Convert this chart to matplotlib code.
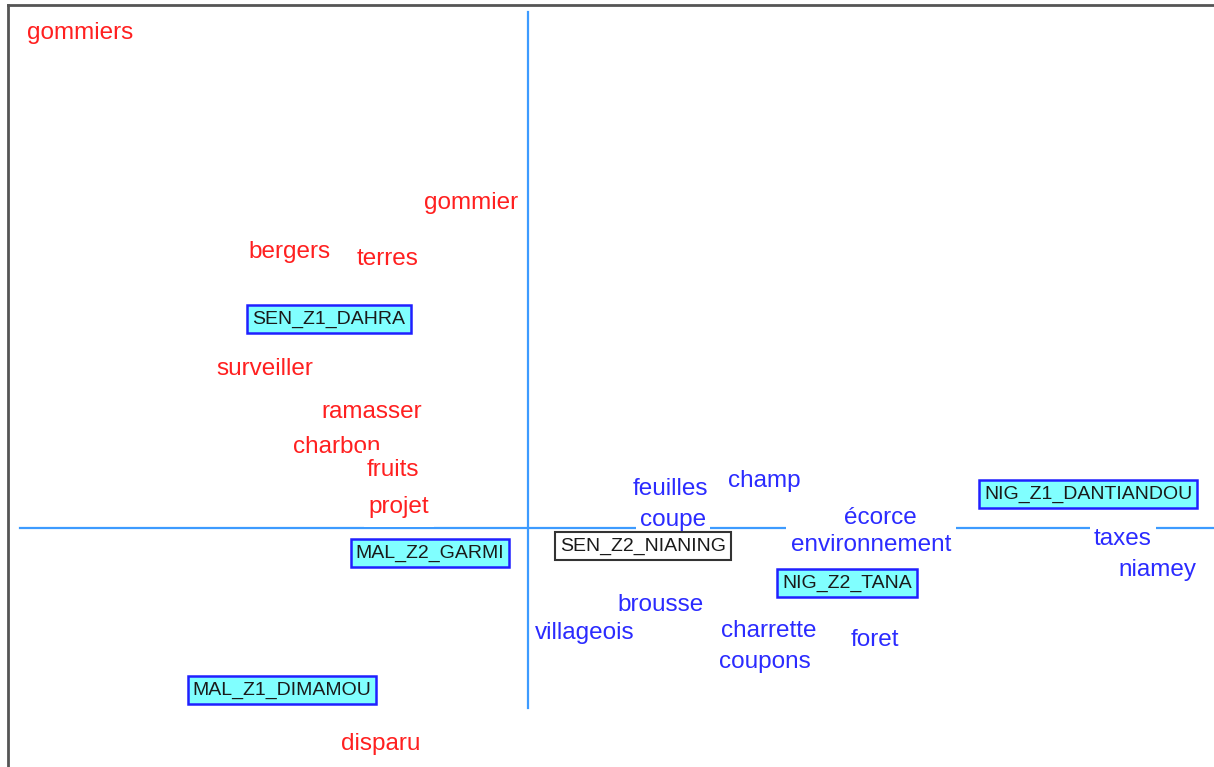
import matplotlib
matplotlib.use("Agg")
import matplotlib.pyplot as plt

plt.rcParams["font.family"] = ["Liberation Sans", "DejaVu Sans"]

# column words (red) - factor 1 / factor 2 coordinates
red_words = ["gommiers", "gommier", "bergers", "terres", "surveiller",
             "ramasser", "charbon", "fruits", "projet", "disparu"]
red_x = [-0.896, -0.114, -0.476, -0.280, -0.526, -0.312, -0.382, -0.270, -0.258, -0.294]
red_y = [0.990, 0.650, 0.552, 0.538, 0.318, 0.232, 0.162, 0.116, 0.042, -0.432]

# column words (blue)
blue_words = ["feuilles", "champ", "coupe", "écorce", "environnement", "taxes",
              "niamey", "brousse", "villageois", "charrette", "coupons", "foret"]
blue_x = [0.284, 0.472, 0.290, 0.704, 0.686, 1.190, 1.258, 0.266, 0.114, 0.482, 0.474, 0.694]
blue_y = [0.078, 0.094, 0.016, 0.020, -0.034, -0.022, -0.084, -0.154, -0.210, -0.206, -0.268, -0.224]

# sites (boxed)
sites = ["SEN_Z1_DAHRA", "MAL_Z2_GARMI", "MAL_Z1_DIMAMOU", "SEN_Z2_NIANING",
         "NIG_Z2_TANA", "NIG_Z1_DANTIANDOU"]
site_x = [-0.398, -0.196, -0.492, 0.230, 0.638, 1.120]
site_y = [0.418, -0.050, -0.324, -0.036, -0.110, 0.068]
site_active = [True, True, True, False, True, True]

fig = plt.figure(figsize=(12.14, 7.67), dpi=100)
ax = fig.add_axes([8 / 1214, 0, 1 - 8 / 1214, 1 - 5 / 767])
ax.set_xlim(-1.04, 1.372)
ax.set_ylim(-0.478, 1.046)
ax.set_xticks([])
ax.set_yticks([])
for side in ["right", "bottom"]:
    ax.spines[side].set_visible(False)
for side in ["left", "top"]:
    ax.spines[side].set_color("#555555")
    ax.spines[side].set_linewidth(2)

# factor axes
ax.plot([-1.016, 1.37], [0, 0], color="#3d9bff", lw=1.6, zorder=1)
ax.plot([0, 0], [-0.36, 1.032], color="#3d9bff", lw=1.6, zorder=1)

# white label background, taller than wide
word_box = dict(boxstyle="square,pad=0.18", fc="white", ec="none", mutation_aspect=2.0)
for w, x, y in zip(red_words, red_x, red_y):
    ax.text(x, y, w, color="#ff2020", fontsize=17.5, ha="center", va="center",
            bbox=word_box, zorder=3)
for w, x, y in zip(blue_words, blue_x, blue_y):
    ax.text(x, y, w, color="#2b2bff", fontsize=17.5, ha="center", va="center",
            bbox=word_box, zorder=3)

for s, x, y, active in zip(sites, site_x, site_y, site_active):
    if active:
        box = dict(boxstyle="square,pad=0.26", fc="#80ffff", ec="#2020ff", lw=1.8)
    else:
        box = dict(boxstyle="square,pad=0.26", fc="white", ec="#333333", lw=1.5)
    ax.text(x, y, s, color="#1a1a1a", fontsize=14, ha="center", va="center",
            bbox=box, zorder=4)

fig.savefig("out.png", dpi=100)
